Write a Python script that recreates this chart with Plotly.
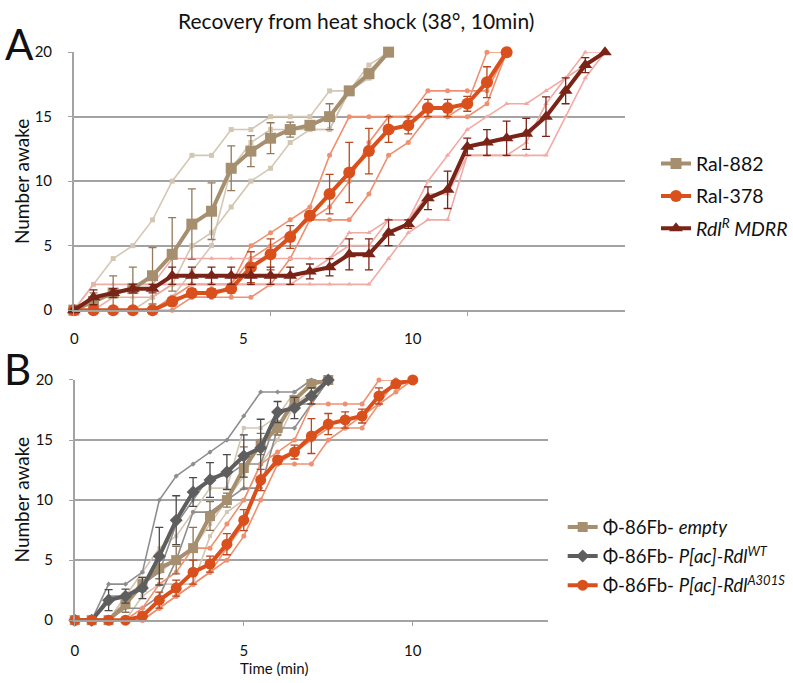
import plotly.graph_objects as go

# ---------------- data ----------------
TIME = [0, 0.5, 1, 1.5, 2, 2.5, 3, 3.5, 4, 4.5, 5, 5.5, 6, 6.5, 7, 7.5,
        8, 8.5, 9, 9.5, 10, 10.5, 11, 11.5, 12, 12.5, 13, 13.5]

# Panel A
RAL882_MEAN = [0, 0.67, 1.33, 1.67, 2.67, 4.33, 6.67, 7.67, 11, 12.33, 13.33, 14, 14.33, 15, 17, 18.33, 20]
RAL882_SE = [0, 0.67, 1.33, 1.67, 2.19, 2.85, 2.73, 2.19, 1.73, 1.2, 1.2, 0.58, 0.33, 1.0, 0, 0.33, 0]
RAL882_R1 = [0, 2, 4, 5, 7, 10, 12, 12, 14, 14, 15, 15, 15, 17, 17, 19, 20]
RAL882_R2 = [0, 0, 0, 0, 1, 2, 5, 6, 8, 10, 11, 13, 14, 14, 17, 18, 20]
RAL882_R3 = [0, 0, 0, 0, 0, 1, 3, 5, 11, 13, 14, 14, 14, 14, 17, 18, 20]

RAL378_MEAN = [0, 0, 0, 0, 0, 0.67, 1.33, 1.33, 1.67, 3.33, 4.33, 5.67, 7.33, 9, 10.67, 12.33,
               14, 14.33, 15.67, 15.67, 16, 17.67, 20]
RAL378_SE = [0, 0, 0, 0, 0, 0.33, 0.33, 0.33, 0.33, 1.2, 1.2, 0.88, 0.33, 1.53, 2.33, 1.76,
             1.0, 0.67, 0.67, 0.67, 0.58, 1.2, 0]
RAL378_R1 = [0, 0, 0, 0, 0, 1, 2, 2, 2, 5, 6, 7, 8, 12, 15, 15, 15, 15, 15, 15, 16, 20, 20]
RAL378_R2 = [0, 0, 0, 0, 0, 1, 1, 1, 2, 4, 5, 6, 7, 8, 10, 13, 15, 15, 17, 17, 17, 17, 20]
RAL378_R3 = [0, 0, 0, 0, 0, 0, 1, 1, 1, 1, 2, 4, 7, 7, 7, 9, 12, 13, 15, 15, 15, 16, 20]

MDRR_MEAN = [0, 1, 1.33, 1.67, 1.67, 2.67, 2.67, 2.67, 2.67, 2.67, 2.67, 2.67, 3, 3.33, 4.33, 4.33,
             6, 6.67, 8.67, 9.33, 12.67, 13, 13.33, 13.67, 15, 17, 19, 20]
MDRR_SE = [0, 0.58, 0.33, 0.33, 0.33, 0.67, 0.67, 0.67, 0.67, 0.67, 0.67, 0.67, 0.58, 0.67, 1.2, 1.2,
           1.0, 0.33, 0.88, 1.45, 0.67, 1.0, 1.33, 1.2, 1.53, 1.0, 0.58, 0]
MDRR_R1 = [0, 2, 2, 2, 2, 4, 4, 4, 4, 4, 4, 4, 4, 4, 6, 6, 7, 7, 10, 12, 14, 15, 16, 16, 17, 18, 20, 20]
MDRR_R2 = [0, 1, 1, 2, 2, 2, 2, 2, 2, 2, 2, 2, 3, 4, 5, 5, 7, 7, 9, 9, 12, 12, 12, 13, 16, 18, 19, 20]
MDRR_R3 = [0, 0, 1, 1, 1, 2, 2, 2, 2, 2, 2, 2, 2, 2, 2, 2, 4, 6, 7, 7, 12, 12, 12, 12, 12, 15, 18, 20]

# Panel B
EMPTY_MEAN = [0, 0, 0, 1.33, 3, 4.33, 5, 6, 8.67, 10, 12.67, 14.67, 16, 18.33, 19.67, 20]
EMPTY_SE = [0, 0, 0, 0.67, 0.58, 0.88, 1.15, 1.73, 1.2, 0.58, 1.76, 0.88, 0.58, 0.33, 0.33, 0]
EMPTY_R1 = [0, 0, 0, 2, 4, 6, 7, 9, 11, 11, 16, 16, 17, 19, 20, 20]
EMPTY_R2 = [0, 0, 0, 2, 3, 4, 5, 6, 8, 10, 12, 15, 16, 18, 20, 20]
EMPTY_R3 = [0, 0, 0, 0, 2, 3, 3, 3, 7, 9, 10, 13, 15, 18, 19, 20]

WT_MEAN = [0, 0, 1.67, 2, 2.67, 5.33, 8.33, 10.67, 11.67, 12.33, 13.67, 14.33, 17.33, 17.67, 18.67, 20]
WT_SE = [0, 0, 0.88, 0.58, 0.88, 2.4, 2.03, 1.2, 1.45, 1.45, 1.76, 2.4, 0.88, 0.88, 0.67, 0]
WT_R1 = [0, 0, 3, 3, 4, 10, 12, 13, 14, 15, 17, 19, 19, 19, 20, 20]
WT_R2 = [0, 0, 2, 2, 3, 4, 8, 10, 12, 12, 13, 13, 17, 18, 18, 20]
WT_R3 = [0, 0, 0, 1, 1, 2, 5, 9, 9, 10, 11, 11, 16, 16, 18, 20]

A301S_MEAN = [0, 0, 0, 0, 0.33, 1.67, 2.67, 4, 4.67, 6.33, 8.33, 11.67, 13.33, 14, 15.33, 16.33,
              16.67, 17, 18.67, 19.67, 20]
A301S_SE = [0, 0, 0, 0, 0.33, 0.67, 0.67, 1.0, 0.67, 0.88, 0.88, 0.88, 0.33, 0.58, 1.45, 0.88,
            0.67, 0.58, 0.67, 0.33, 0]
A301S_R1 = [0, 0, 0, 0, 1, 3, 4, 6, 6, 8, 10, 13, 14, 15, 18, 18, 18, 18, 20, 20, 20]
A301S_R2 = [0, 0, 0, 0, 0, 1, 2, 3, 4, 6, 8, 12, 13, 14, 15, 16, 16, 17, 18, 20, 20]
A301S_R3 = [0, 0, 0, 0, 0, 1, 2, 3, 4, 5, 7, 10, 13, 13, 13, 15, 16, 16, 18, 19, 20]

Y_TICKS = [0, 5, 10, 15, 20]
X_TICKS = [0, 5, 10]

# ---------------- styling ----------------
W, H = 793, 683
FONT = "Lato"
TAN, TAN_L = "#A68F6E", "#D3C7B3"
ORG, ORG_L = "#DA501C", "#EF9070"
MDR, MDR_L = "#7A2317", "#F2ABA4"
GRY, GRY_L = "#5E5E5E", "#8E8E8E"
GRID = "#A3A3A3"
TXT = "#111111"


def px(x):
    return x / W


def py(y):
    return 1 - y / H


fig = go.Figure()


def rep(y, color, xa, ya, symbol, size=5):
    fig.add_trace(go.Scatter(
        x=TIME[:len(y)], y=y, mode="lines+markers", xaxis=xa, yaxis=ya,
        line=dict(color=color, width=1.6),
        marker=dict(color=color, symbol=symbol, size=size),
        showlegend=False, hoverinfo="skip", cliponaxis=False))


def mean(y, se, color, xa, ya, symbol, size, name, legend, ecolor=None):
    fig.add_trace(go.Scatter(
        x=TIME[:len(y)], y=y, mode="lines+markers", xaxis=xa, yaxis=ya,
        name=name, legend=legend, legendgroup=name,
        line=dict(color=color, width=4),
        marker=dict(color=color, symbol=symbol, size=size),
        error_y=dict(type="data", array=se, color=ecolor or color, thickness=1.3, width=4),
        cliponaxis=False))


# Panel A replicates
for r in (RAL882_R1, RAL882_R2, RAL882_R3):
    rep(r, TAN_L, "x", "y", "square")
for r in (RAL378_R1, RAL378_R2, RAL378_R3):
    rep(r, ORG_L, "x", "y", "circle")
for r in (MDRR_R1, MDRR_R2, MDRR_R3):
    rep(r, MDR_L, "x", "y", "triangle-up")

mean(RAL882_MEAN, RAL882_SE, TAN, "x", "y", "square", 11, "Ral-882", "legend", "#94795A")
mean(RAL378_MEAN, RAL378_SE, ORG, "x", "y", "circle", 12, "Ral-378", "legend", "#B8481E")
mean(MDRR_MEAN, MDRR_SE, MDR, "x", "y", "triangle-up", 12, "<i>Rdl<sup>R</sup> MDRR</i>", "legend")

# Panel B replicates
for r in (EMPTY_R1, EMPTY_R2, EMPTY_R3):
    rep(r, TAN_L, "x2", "y2", "square", 4)
for r in (WT_R1, WT_R2, WT_R3):
    rep(r, GRY_L, "x2", "y2", "diamond", 4)
for r in (A301S_R1, A301S_R2, A301S_R3):
    rep(r, ORG_L, "x2", "y2", "circle", 5)

mean(EMPTY_MEAN, EMPTY_SE, TAN, "x2", "y2", "square", 10, "Φ-86Fb- <i>empty</i>", "legend2", "#8A7355")
mean(WT_MEAN, WT_SE, GRY, "x2", "y2", "diamond", 10, "Φ-86Fb- <i>P[ac]-Rdl<sup>WT</sup></i>", "legend2", "#4A4A4A")
mean(A301S_MEAN, A301S_SE, ORG, "x2", "y2", "circle", 11, "Φ-86Fb- <i>P[ac]-Rdl<sup>A301S</sup></i>", "legend2", "#B8481E")

xcommon = dict(range=[0, 14], showgrid=False, zeroline=False, showline=True,
               linecolor=GRID, linewidth=1.5, ticks="outside", ticklen=4, tickcolor=GRID,
               tickvals=X_TICKS, ticktext=[str(v) for v in X_TICKS],
               tickfont=dict(family=FONT, size=15, color=TXT), ticklabelstandoff=12)
ycommon = dict(range=[0, 20], tickvals=Y_TICKS, showgrid=True, gridcolor=GRID, gridwidth=1.5,
               zeroline=False, showline=True, linecolor=GRID, linewidth=1.5,
               ticks="outside", ticklen=4, tickcolor=GRID,
               tickfont=dict(family=FONT, size=15, color=TXT), ticklabelstandoff=13)

fig.update_layout(
    width=W, height=H, margin=dict(l=0, r=0, t=0, b=0),
    paper_bgcolor="white", plot_bgcolor="white",
    font=dict(family=FONT, color=TXT),
    xaxis=dict(domain=[px(71), px(631)], anchor="y", **dict(xcommon, showticklabels=False)),
    yaxis=dict(domain=[py(308.3), py(43.3)], anchor="x", **ycommon),
    xaxis2=dict(domain=[px(72), px(553)], anchor="y2", **xcommon),
    yaxis2=dict(domain=[py(626.7), py(380)], anchor="x2", **ycommon),
    legend=dict(x=px(663), y=py(138), xanchor="left", yanchor="top",
                font=dict(family=FONT, size=19.5, color=TXT), tracegroupgap=4,
                bgcolor="rgba(0,0,0,0)", itemwidth=30),
    legend2=dict(x=px(568), y=py(512), xanchor="left", yanchor="top",
                 font=dict(family=FONT, size=18.5, color=TXT), tracegroupgap=2,
                 bgcolor="rgba(0,0,0,0)", itemwidth=30),
    showlegend=True,
)

ann = [
    dict(text="Recovery from heat shock (38°, 10min)", x=px(358), y=py(11), size=21),
    dict(text="A", x=px(16), y=py(35), size=42),
    dict(text="B", x=px(14), y=py(369), size=42),
    dict(text="Time (min)", x=px(274), y=py(676), size=15),
]
for a in ann:
    fig.add_annotation(text=a["text"], x=a["x"], y=a["y"], xref="paper", yref="paper",
                       showarrow=False, xanchor="center", yanchor="middle",
                       font=dict(family=FONT, size=a["size"], color=TXT))
for yc in (176, 503):
    fig.add_annotation(text="Number awake", x=px(18), y=py(yc), xref="paper", yref="paper",
                       showarrow=False, textangle=-90, xanchor="center", yanchor="middle",
                       font=dict(family=FONT, size=19, color=TXT))

# Panel A's time labels sit at the same positions as panel B's axis labels
for v in X_TICKS:
    fig.add_annotation(text=str(v), x=v, xref="x2", y=py(337), yref="paper",
                       showarrow=False, xanchor="center", yanchor="middle",
                       font=dict(family=FONT, size=15, color=TXT))

# remove the page's default body margin so the figure sits at the window's corner
fig.write_html("out.html", config={"displayModeBar": False},
               post_script="document.body.style.margin='0';")
